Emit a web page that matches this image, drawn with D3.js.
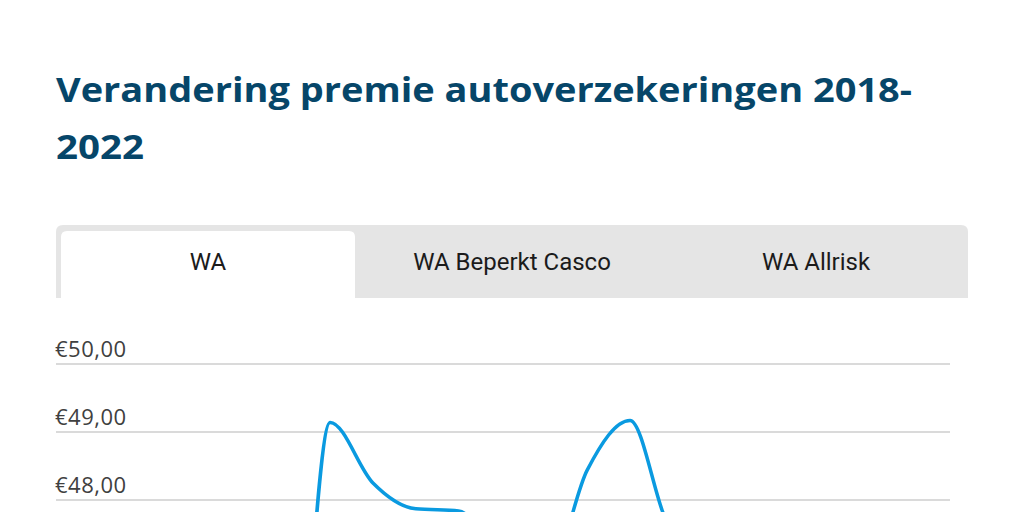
<!DOCTYPE html>
<html>
<head>
<meta charset="utf-8">
<script src="https://cdn.jsdelivr.net/npm/d3@7"></script>
<style>
  html, body { margin: 0; padding: 0; background: #fff; overflow: hidden; }
</style>
</head>
<body>
<div id="chart"></div>
<script>
// tabs, periods and the WA premium series
var tabs = ["WA", "WA Beperkt Casco", "WA Allrisk"];
var periods = ["Q1 2018", "Q2 2018", "Q3 2018", "Q4 2018",
               "Q1 2019", "Q2 2019", "Q3 2019", "Q4 2019",
               "Q1 2020", "Q2 2020", "Q3 2020", "Q4 2020",
               "Q1 2021", "Q2 2021", "Q3 2021", "Q4 2021",
               "Q1 2022", "Q2 2022", "Q3 2022", "Q4 2022", "Q1 2023"];
var premiums = [47.2, 47.0, 46.6, 46.2, 45.5, 43.4, 49.14, 48.25, 47.87, 47.84,
                47.1, 46.75, 48.44, 49.17, 47.6, 47.7, 47.5, 47.6, 47.4, 47.5, 47.6];
var yTicks = [48, 49, 50];

var W = 1024, H = 512;

var svg = d3.select("#chart")
	.append("svg")
	.attr("width", W)
	.attr("height", H);

// title
var title = svg.append("text")
	.attr("x", 56)
	.attr("y", 102)
	.style("font-family", "'Open Sans', sans-serif")
	.style("font-weight", 700)
	.style("font-size", "34px")
	.style("fill", "#064669");
title.append("tspan").attr("x", 56).attr("y", 102)
	.attr("textLength", 856).attr("lengthAdjust", "spacingAndGlyphs")
	.text("Verandering premie autoverzekeringen 2018-");
title.append("tspan").attr("x", 56).attr("y", 159)
	.attr("textLength", 88).attr("lengthAdjust", "spacingAndGlyphs")
	.text("2022");

// tab bar
var tabX = d3.scaleBand().domain(tabs).range([56, 968]);

function topRounded(x, y, w, h, r) {
	return "M" + x + "," + (y + h) +
		"V" + (y + r) +
		"Q" + x + "," + y + " " + (x + r) + "," + y +
		"H" + (x + w - r) +
		"Q" + (x + w) + "," + y + " " + (x + w) + "," + (y + r) +
		"V" + (y + h) + "Z";
}

svg.append("path")
	.attr("d", topRounded(56, 225, 912, 73, 7))
	.style("fill", "#e5e5e5");

svg.append("path")
	.attr("d", topRounded(tabX("WA") + 5, 231, tabX.bandwidth() - 10, 67, 6))
	.style("fill", "#ffffff");

svg.selectAll("text.tab")
	.data(tabs)
	.enter().append("text")
	.attr("class", "tab")
	.attr("x", function(d) { return tabX(d) + tabX.bandwidth() / 2; })
	.attr("y", 270)
	.attr("text-anchor", "middle")
	.style("font-family", "Roboto, sans-serif")
	.style("font-size", "24px")
	.style("fill", "#1b1b1b")
	.text(function(d) { return d; });

// scales
var x = d3.scalePoint().domain(periods).range([73, 930]);
var y = d3.scaleLinear().domain([43, 50]).range([840, 364]);

var nl = d3.formatLocale({
	decimal: ",", thousands: ".", grouping: [3], currency: ["€", ""]
});
var euro = nl.format("$.2f");

// grid + labels
var grid = svg.append("g");
grid.selectAll("line")
	.data(yTicks)
	.enter().append("line")
	.attr("x1", 56)
	.attr("x2", 950)
	.attr("y1", function(d) { return y(d); })
	.attr("y2", function(d) { return y(d); })
	.style("stroke", "#dadada")
	.style("stroke-width", 2);

grid.selectAll("text")
	.data(yTicks)
	.enter().append("text")
	.attr("x", 55)
	.attr("y", function(d) { return y(d) - 7; })
	.style("font-family", "'Open Sans', sans-serif")
	.style("font-size", "22px")
	.style("letter-spacing", "0.5px")
	.style("fill", "#404040")
	.text(function(d) { return euro(d); });

// line
var line = d3.line()
	.x(function(d, i) { return x(periods[i]); })
	.y(function(d) { return y(d); })
	.curve(d3.curveMonotoneX);

svg.append("path")
	.datum(premiums)
	.attr("d", line)
	.style("fill", "none")
	.style("stroke", "#0a9ae0")
	.style("stroke-width", 3.5);
</script>
</body>
</html>
